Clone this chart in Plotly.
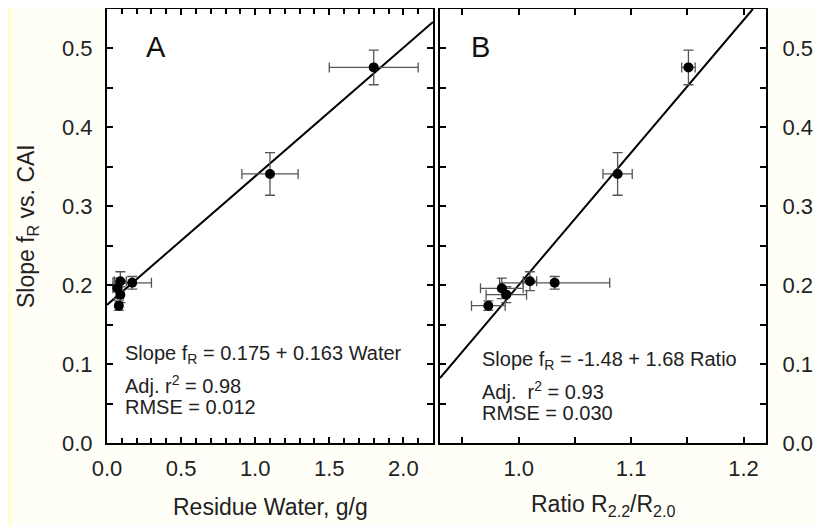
import plotly.graph_objects as go

# ---- data ----
slope = [0.174, 0.196, 0.188, 0.205, 0.203, 0.341, 0.476]
slope_err = [0.006, 0.013, 0.010, 0.012, 0.008, 0.027, 0.022]
water = [0.08, 0.07, 0.09, 0.09, 0.17, 1.10, 1.80]
water_err = [0.02, 0.03, 0.02, 0.04, 0.13, 0.19, 0.30]
ratio = [0.973, 0.985, 0.989, 1.010, 1.032, 1.088, 1.151]
ratio_err = [0.015, 0.019, 0.018, 0.006, 0.049, 0.013, 0.006]

fit_a = [0.175, 0.163]   # intercept, slope
fit_b = [-1.48, 1.68]
xr_a = [0.0, 2.2]
xr_b = [0.93, 1.22]
yr = [0.0, 0.55]

FONT = "Liberation Sans, Arial, sans-serif"
OFF = 8                       # page body margin
W, H = 823 - OFF, 526 - OFF   # figure size


def px(x):
    return (x - OFF) / W


fig = go.Figure()

err_style = dict(type="data", color="#555555", thickness=1.3, width=5)

fig.add_trace(go.Scatter(
    x=[xr_a[0], xr_a[1]], y=[fit_a[0] + fit_a[1] * xr_a[0], fit_a[0] + fit_a[1] * xr_a[1]],
    mode="lines", line=dict(color="black", width=2), xaxis="x", yaxis="y", showlegend=False))
fig.add_trace(go.Scatter(
    x=water, y=slope, mode="markers",
    marker=dict(color="black", size=10),
    error_x=dict(array=water_err, **err_style),
    error_y=dict(array=slope_err, **err_style),
    xaxis="x", yaxis="y", showlegend=False))

xb0 = xr_b[0]
xb1 = (yr[1] - fit_b[0]) / fit_b[1]
fig.add_trace(go.Scatter(
    x=[xb0, xb1], y=[fit_b[0] + fit_b[1] * xb0, fit_b[0] + fit_b[1] * xb1],
    mode="lines", line=dict(color="black", width=2), xaxis="x2", yaxis="y2", showlegend=False))
fig.add_trace(go.Scatter(
    x=ratio, y=slope, mode="markers",
    marker=dict(color="black", size=10),
    error_x=dict(array=ratio_err, **err_style),
    error_y=dict(array=slope_err, **err_style),
    xaxis="x2", yaxis="y2", showlegend=False))

tickfont = dict(family=FONT, size=22, color="#222222")
common = dict(showline=True, linecolor="black", linewidth=2, mirror="allticks",
              ticks="inside", ticklen=6, tickwidth=1.5, tickcolor="black",
              showgrid=False, zeroline=False, tickfont=tickfont, automargin=False)

top_px, bot_px = 9, 443
pt = top_px - OFF
pb = H - (bot_px - OFF)
ph = H - pt - pb

fig.update_layout(
    width=W, height=H,
    margin=dict(l=0, r=0, t=pt, b=pb),
    paper_bgcolor="#FFFFF8", plot_bgcolor="white",
    xaxis=dict(domain=[px(107), px(433)], range=xr_a, dtick=0.5, tickformat=".1f",
               minor=dict(dtick=0.1, ticks="inside", ticklen=5, tickcolor="black"),
               ticklabelstandoff=5, anchor="y", **common),
    yaxis=dict(domain=[0, 1], range=yr, dtick=0.1, tickformat=".1f",
               minor=dict(dtick=0.05, ticks="inside", ticklen=6, tickcolor="black"),
               ticklabelstandoff=8, anchor="x", **common),
    xaxis2=dict(domain=[px(440), px(766)], range=xr_b, dtick=0.1, tickformat=".1f",
                minor=dict(dtick=0.05, ticks="inside", ticklen=6, tickcolor="black"),
                ticklabelstandoff=5, anchor="y2", **common),
    yaxis2=dict(domain=[0, 1], range=yr, dtick=0.1, tickformat=".1f", side="right",
                minor=dict(dtick=0.05, ticks="inside", ticklen=6, tickcolor="black"),
                ticklabelstandoff=10, anchor="x2", **common),
)

# left decorative strip
fig.add_shape(type="rect", xref="paper", yref="paper", x0=0, x1=px(11), y0=-pb / ph,
              y1=1 + pt / ph, fillcolor="#FFFFCC", line=dict(width=0), layer="below")

ann_font = dict(family=FONT, size=20, color="#222222")
title_font = dict(family=FONT, size=23, color="#222222")


def add_text(text, x, y, xref, yref, font, **kw):
    fig.add_annotation(text=text, x=x, y=y, xref=xref, yref=yref, showarrow=False,
                       font=font, **kw)


# panel letters
letter_font = dict(family=FONT, size=29, color="#111111")
add_text("A", 0.33, 0.502, "x", "y", letter_font, xanchor="center", yanchor="middle")
add_text("B", 0.966, 0.502, "x2", "y2", letter_font, xanchor="center", yanchor="middle")

# regression texts
add_text("Slope f<sub>R</sub> = 0.175 + 0.163 Water", 0.105, 0.112, "x", "y", ann_font, xanchor="left", yanchor="middle")
add_text("Adj. r<sup>2</sup> = 0.98", 0.105, 0.074, "x", "y", ann_font, xanchor="left", yanchor="middle")
add_text("RMSE = 0.012", 0.105, 0.0456, "x", "y", ann_font, xanchor="left", yanchor="middle")

add_text("Slope f<sub>R</sub> = -1.48 + 1.68 Ratio", 0.966, 0.105, "x2", "y2", ann_font, xanchor="left", yanchor="middle")
add_text("Adj.  r<sup>2</sup> = 0.93", 0.966, 0.066, "x2", "y2", ann_font, xanchor="left", yanchor="middle")
add_text("RMSE = 0.030", 0.966, 0.038, "x2", "y2", ann_font, xanchor="left", yanchor="middle")

# axis titles
add_text("Slope f<sub>R</sub> vs. CAI", px(27), (bot_px - 226) / ph, "paper", "paper", title_font,
         textangle=-90, xanchor="center", yanchor="middle")
add_text("Residue Water, g/g", px(270), -(507 - bot_px) / ph, "paper", "paper", title_font,
         xanchor="center", yanchor="middle")
add_text("Ratio R<sub>2.2</sub>/R<sub>2.0</sub>", px(603), -(505 - bot_px) / ph, "paper", "paper", title_font,
         xanchor="center", yanchor="middle")

fig.write_html("out.html")
